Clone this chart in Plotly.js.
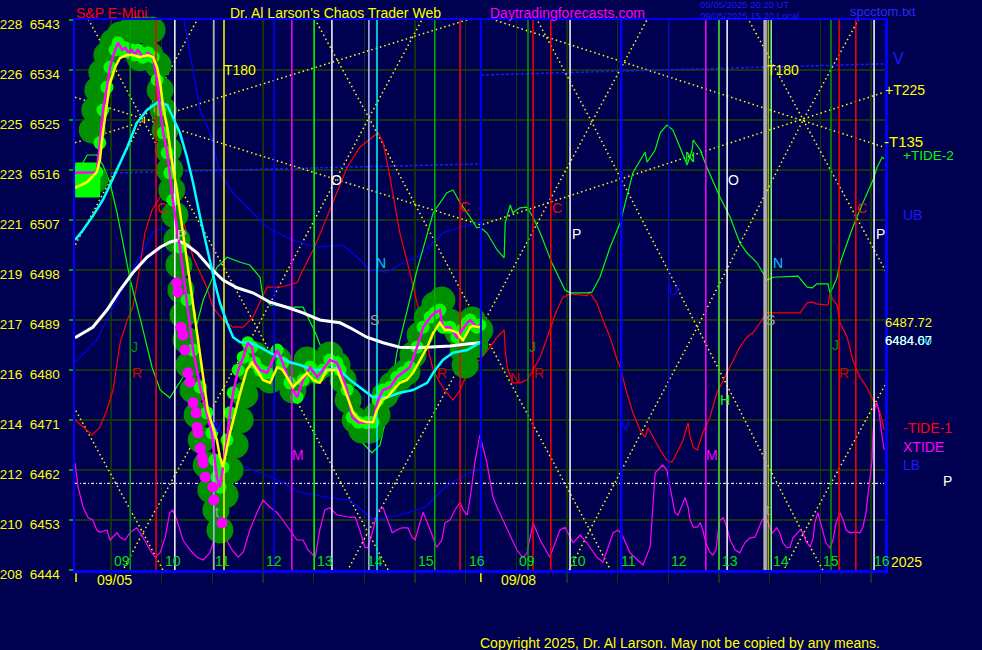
<!DOCTYPE html>
<html><head><meta charset="utf-8">
<script src="https://cdn.plot.ly/plotly-3.0.1.min.js"></script>
<style>html,body{margin:0;padding:0;background:#000050;}#chart{width:982px;height:650px;}</style>
</head><body><div id="chart"></div>
<script>
// ---------- DATA ----------
// x = session hour (09/05: 9..16, 09/08: 17..24 means 09:00..16:00), y = S&P E-mini price
const priceTicks = [6444,6453,6462,6471,6480,6489,6498,6507,6516,6525,6534,6543];
const etfTicks = [208,210,212,214,216,217,219,221,223,225,226,228];
const hourTicks = [9,10,11,12,13,14,15,16,17,18,19,20,21,22,23,24];
const hourLabels = ['09','10','11','12','13','14','15','16','09','10','11','12','13','14','15','16'];
const dateLabels = ['09/05','09/08'];
const dateTimes = [9.06,17.05];
const dateTickTimes = [8.31,16.30];

const pricePath = [[8.29,6515.5],[8.72,6515.6],[8.78,6520.9],[8.84,6526.8],[8.92,6530.9],[8.98,6534.5],[9.08,6537.6],[9.14,6538.9],[9.22,6537.6],[9.28,6538.0],[9.34,6537.2],[9.41,6537.6],[9.47,6536.7],[9.53,6537.6],[9.63,6536.3],[9.73,6537.1],[9.83,6536.3],[9.91,6532.2],[9.97,6526.8],[10.03,6522.7],[10.11,6519.1],[10.16,6515.5],[10.22,6510.6],[10.36,6502.1],[10.50,6492.6],[10.62,6483.6],[10.76,6476.9],[10.89,6472.3],[10.99,6468.7],[11.05,6463.8],[11.09,6460.7],[11.15,6458.9],[11.21,6462.5],[11.29,6467.4],[11.35,6472.3],[11.41,6475.9],[11.51,6480.0],[11.61,6482.3],[11.70,6484.9],[11.78,6484.1],[11.84,6481.3],[11.94,6480.0],[12.08,6479.5],[12.28,6483.6],[12.39,6481.3],[12.53,6477.7],[12.67,6475.1],[12.79,6478.2],[12.93,6480.5],[13.07,6478.7],[13.18,6480.0],[13.32,6481.8],[13.46,6481.3],[13.52,6480.0],[13.66,6476.4],[13.76,6471.5],[13.88,6470.6],[14.05,6470.5],[14.17,6470.6],[14.27,6474.6],[14.37,6476.4],[14.51,6476.9],[14.64,6478.7],[14.76,6479.5],[14.90,6480.5],[15.04,6484.1],[15.16,6487.7],[15.30,6489.5],[15.39,6490.3],[15.49,6490.8],[15.55,6487.7],[15.69,6487.7],[15.83,6485.9],[15.93,6487.2],[16.03,6488.5],[16.09,6489.0],[16.22,6487.7],[16.28,6488.1]];

const smoothPath = [[8.29,6512.8],[8.53,6513.8],[8.72,6515.6],[8.78,6517.8],[8.84,6522.7],[8.92,6528.1],[8.98,6531.7],[9.08,6534.5],[9.18,6536.2],[9.32,6536.7],[9.43,6536.7],[9.57,6536.3],[9.73,6536.7],[9.83,6536.3],[9.91,6534.5],[9.97,6531.7],[10.03,6527.3],[10.11,6523.7],[10.16,6520.1],[10.22,6516.5],[10.30,6512.4],[10.36,6508.3],[10.42,6504.7],[10.56,6495.7],[10.70,6486.7],[10.82,6478.2],[10.91,6472.8],[11.01,6469.7],[11.09,6467.4],[11.15,6464.3],[11.21,6462.5],[11.23,6463.3],[11.29,6466.1],[11.35,6468.7],[11.45,6472.3],[11.55,6475.9],[11.68,6480.0],[11.78,6481.3],[11.88,6480.0],[12.00,6478.2],[12.14,6477.7],[12.28,6480.5],[12.39,6480.0],[12.59,6476.9],[12.73,6478.2],[12.87,6479.5],[12.99,6478.2],[13.12,6477.7],[13.26,6480.0],[13.46,6480.0],[13.52,6478.7],[13.66,6475.1],[13.78,6472.3],[13.91,6471.0],[14.05,6470.6],[14.17,6470.6],[14.25,6472.8],[14.35,6474.6],[14.45,6475.1],[14.57,6476.4],[14.70,6477.7],[14.84,6478.2],[14.96,6479.5],[15.10,6481.8],[15.24,6484.1],[15.36,6486.7],[15.49,6488.5],[15.59,6487.2],[15.69,6487.2],[15.83,6486.8],[15.89,6485.9],[15.95,6485.4],[16.03,6486.7],[16.09,6487.7],[16.14,6487.9],[16.28,6487.7]];

const fastAvg = [[8.29,6503.4],[8.45,6505.2],[8.64,6507.7],[8.84,6510.6],[8.98,6513.3],[9.12,6516.0],[9.32,6520.1],[9.51,6524.5],[9.71,6526.8],[9.93,6528.2],[10.11,6527.7],[10.22,6525.5],[10.36,6522.7],[10.50,6518.3],[10.62,6513.7],[10.76,6507.5],[10.89,6502.1],[10.99,6498.5],[11.05,6495.7],[11.15,6492.1],[11.29,6488.5],[11.41,6485.9],[11.55,6485.0],[11.74,6484.9],[11.94,6484.1],[12.14,6483.1],[12.34,6482.2],[12.53,6481.4],[12.73,6480.9],[12.99,6480.0],[13.26,6480.0],[13.46,6480.4],[13.72,6478.2],[13.97,6476.4],[14.17,6475.1],[14.45,6475.1],[14.70,6475.9],[14.96,6476.4],[15.24,6477.7],[15.36,6479.5],[15.55,6481.8],[15.75,6483.1],[16.03,6483.6],[16.28,6484.9]];

const slowAvg = [[8.29,6485.8],[8.64,6487.7],[8.92,6490.8],[9.18,6494.4],[9.43,6497.5],[9.71,6500.3],[9.97,6502.1],[10.16,6503.0],[10.30,6503.4],[10.50,6502.5],[10.70,6501.1],[10.95,6498.5],[11.21,6496.2],[11.49,6494.8],[11.80,6493.9],[12.14,6492.2],[12.47,6491.3],[12.79,6490.3],[13.12,6489.0],[13.52,6488.5],[13.72,6487.6],[14.05,6485.9],[14.37,6484.9],[14.70,6484.1],[15.04,6484.0],[15.36,6484.1],[15.69,6484.3],[16.03,6484.7],[16.28,6484.9]];

const bigDots = [[10.30,6495.7],[10.32,6494.0],[10.38,6487.7],[10.42,6486.3],[10.46,6483.6],[10.52,6479.5],[10.56,6477.8],[10.62,6474.1],[10.68,6472.3],[10.70,6469.7],[10.72,6468.7],[10.76,6465.9],[10.80,6464.3],[10.82,6463.3],[10.86,6460.7],[11.01,6458.9],[11.03,6456.6],[11.19,6452.5]];

const bubbles = [[8.23,6513.7],[8.68,6514.2],[8.63,6523.2],[8.68,6526.8],[8.74,6530.4],[8.82,6533.6],[8.92,6536.7],[9.04,6539.0],[9.18,6540.3],[9.34,6540.8],[9.51,6541.2],[9.67,6541.2],[9.81,6541.2],[9.77,6536.7],[9.57,6536.2],[9.93,6534.9],[9.97,6530.4],[10.03,6526.8],[10.07,6523.2],[10.13,6519.6],[10.16,6516.0],[10.20,6512.4],[10.26,6507.9],[10.30,6503.4],[10.34,6498.9],[10.38,6494.4],[10.42,6489.9],[10.48,6485.4],[10.54,6480.9],[10.62,6476.4],[10.70,6471.9],[10.78,6467.4],[10.88,6462.9],[10.97,6458.4],[11.07,6454.8],[11.15,6451.2],[11.25,6457.5],[11.35,6462.0],[11.45,6466.5],[11.55,6471.0],[11.64,6475.5],[11.74,6480.0],[11.84,6482.7],[11.98,6479.1],[12.14,6478.2],[12.30,6481.8],[12.43,6479.1],[12.59,6476.4],[12.73,6479.1],[12.87,6481.8],[13.03,6480.0],[13.16,6480.9],[13.32,6482.7],[13.46,6480.9],[13.58,6478.2],[13.68,6474.6],[13.82,6471.0],[13.95,6469.2],[14.11,6469.2],[14.25,6471.9],[14.41,6475.5],[14.55,6477.3],[14.70,6478.6],[14.84,6479.7],[14.96,6482.7],[15.10,6486.3],[15.24,6489.4],[15.39,6491.7],[15.53,6492.6],[15.69,6488.6],[15.85,6486.8],[15.99,6488.1],[16.13,6489.0],[16.28,6487.2],[16.18,6484.5],[15.95,6483.6],[15.99,6480.9]];
const openBox = [[8.54,6515.1],[8.54,6513.3]];

const greenTide = [[8.29,6515.1],[8.39,6516.4],[8.53,6518.7],[8.72,6518.7],[8.84,6516.9],[8.98,6513.7],[9.12,6508.3],[9.24,6502.9],[9.38,6496.2],[9.57,6489.5],[9.81,6480.5],[9.97,6476.4],[10.16,6475.0],[10.42,6478.7],[10.62,6485.4],[10.82,6492.6],[11.09,6498.5],[11.29,6500.3],[11.55,6499.4],[11.74,6498.9],[11.94,6496.7],[12.00,6493.1],[12.14,6491.7],[12.59,6491.3],[12.79,6491.3],[13.03,6486.8],[13.32,6480.0],[13.62,6472.8],[13.91,6467.4],[14.15,6465.1],[14.31,6466.5],[14.51,6474.6],[14.64,6483.1],[15.04,6498.0],[15.36,6508.3],[15.63,6511.9],[15.75,6512.4],[15.89,6510.1],[16.09,6507.5],[16.22,6505.6],[16.28,6505.7],[16.42,6504.7],[16.62,6501.6],[16.76,6500.2],[16.78,6506.5],[16.88,6509.7],[16.93,6508.3],[17.07,6509.2],[17.21,6509.3],[17.33,6507.5],[17.47,6504.7],[17.70,6499.3],[17.96,6494.4],[18.06,6493.9],[18.39,6493.9],[18.49,6494.0],[18.65,6496.7],[18.85,6502.1],[19.05,6506.5],[19.30,6515.5],[19.54,6519.2],[19.58,6517.4],[19.74,6519.6],[19.84,6522.7],[19.97,6524.1],[20.09,6523.2],[20.23,6520.1],[20.37,6516.9],[20.47,6519.6],[20.49,6521.4],[20.63,6519.6],[20.76,6516.5],[21.02,6511.1],[21.22,6507.5],[21.41,6502.9],[21.55,6501.1],[21.75,6499.3],[21.87,6497.5],[21.95,6496.2],[22.07,6496.7],[22.56,6496.9],[22.74,6494.9],[22.84,6494.8],[22.93,6495.5],[23.15,6495.5],[23.19,6493.9],[23.25,6494.9],[23.33,6496.7],[23.39,6499.3],[23.53,6502.9],[23.64,6505.7],[23.84,6510.1],[24.04,6514.2],[24.12,6516.5],[24.22,6518.3],[24.26,6518.0]];

const redTide = [[8.29,6471.0],[8.45,6469.7],[8.63,6468.3],[8.78,6469.7],[8.92,6472.8],[9.04,6476.4],[9.18,6484.9],[9.32,6489.0],[9.43,6491.3],[9.57,6498.5],[9.67,6504.7],[9.81,6508.8],[9.97,6511.1],[10.11,6512.4],[10.22,6511.9],[10.36,6509.3],[10.50,6504.7],[10.62,6500.3],[10.76,6497.5],[10.89,6494.9],[11.01,6491.3],[11.21,6489.0],[11.41,6487.7],[11.61,6487.7],[11.80,6489.5],[11.94,6492.1],[12.08,6494.9],[12.34,6494.9],[12.67,6495.7],[12.79,6498.0],[12.99,6501.6],[13.18,6505.7],[13.46,6511.9],[13.66,6516.5],[13.91,6520.1],[14.27,6522.7],[14.37,6520.9],[14.47,6516.5],[14.61,6509.3],[14.70,6504.7],[14.90,6497.5],[15.10,6489.5],[15.26,6483.6],[15.36,6480.0],[15.49,6477.7],[15.63,6475.9],[15.75,6474.6],[15.89,6476.4],[16.03,6479.5],[16.14,6481.3],[16.28,6481.8],[16.48,6484.1],[16.62,6485.9],[16.76,6487.2],[16.78,6483.6],[16.82,6480.5],[16.93,6477.7],[17.07,6477.7],[17.21,6478.2],[17.33,6480.0],[17.47,6482.3],[17.66,6487.2],[17.80,6490.8],[17.92,6493.1],[18.06,6493.7],[18.39,6493.4],[18.45,6493.9],[18.59,6492.1],[18.71,6489.0],[18.85,6485.9],[18.99,6481.8],[19.05,6480.5],[19.18,6475.9],[19.30,6472.3],[19.44,6469.2],[19.54,6467.9],[19.60,6469.6],[19.70,6467.9],[19.84,6465.6],[19.97,6463.8],[20.07,6463.4],[20.17,6465.1],[20.29,6467.4],[20.39,6470.5],[20.43,6467.9],[20.49,6466.1],[20.57,6465.6],[20.68,6468.7],[20.82,6471.5],[20.96,6475.9],[21.16,6479.5],[21.28,6481.8],[21.41,6484.1],[21.55,6485.9],[21.67,6486.7],[21.81,6488.5],[21.95,6490.4],[22.01,6490.3],[22.60,6490.3],[22.74,6492.1],[22.84,6492.2],[22.93,6491.9],[23.15,6491.7],[23.19,6493.9],[23.25,6492.6],[23.33,6491.7],[23.39,6488.5],[23.53,6485.9],[23.64,6481.8],[23.78,6478.7],[23.92,6476.9],[24.04,6474.6],[24.18,6472.3],[24.26,6469.2]];

const xTide = [[8.29,6463.3],[8.35,6458.9],[8.45,6455.3],[8.55,6453.4],[8.64,6453.0],[8.72,6451.2],[8.78,6450.8],[8.92,6451.2],[8.98,6449.4],[9.12,6450.7],[9.18,6449.9],[9.28,6449.4],[9.38,6450.8],[9.51,6451.6],[9.63,6449.9],[9.77,6447.6],[9.87,6446.3],[9.97,6447.1],[10.07,6449.9],[10.16,6454.3],[10.22,6454.8],[10.30,6453.0],[10.42,6449.4],[10.56,6447.6],[10.70,6446.3],[10.82,6445.8],[10.95,6447.1],[11.05,6449.9],[11.15,6450.7],[11.25,6449.9],[11.39,6447.6],[11.51,6446.3],[11.61,6447.2],[11.74,6451.2],[11.88,6454.3],[12.00,6456.6],[12.14,6455.3],[12.28,6454.3],[12.39,6453.0],[12.53,6451.2],[12.67,6449.4],[12.79,6449.4],[12.89,6447.6],[13.03,6446.3],[13.12,6451.2],[13.22,6454.8],[13.32,6455.2],[13.46,6453.9],[13.72,6453.5],[13.82,6453.5],[13.91,6451.2],[14.01,6448.1],[14.07,6448.0],[14.17,6451.2],[14.27,6454.8],[14.37,6455.2],[14.47,6452.5],[14.55,6450.7],[14.64,6451.2],[14.74,6451.6],[14.86,6451.6],[14.94,6449.9],[15.00,6449.4],[15.10,6452.5],[15.16,6454.4],[15.30,6451.2],[15.43,6448.1],[15.53,6449.4],[15.59,6452.5],[15.69,6453.0],[15.79,6454.8],[15.89,6456.2],[15.95,6454.8],[16.03,6453.9],[16.09,6457.1],[16.18,6463.3],[16.28,6468.3],[16.42,6463.3],[16.54,6457.1],[16.62,6455.3],[16.82,6451.2],[17.01,6447.6],[17.13,6446.2],[17.21,6447.1],[17.33,6452.5],[17.47,6449.4],[17.66,6446.3],[17.86,6451.2],[17.96,6451.7],[18.12,6448.9],[18.26,6450.3],[18.39,6448.9],[18.59,6446.3],[18.71,6445.4],[18.91,6450.7],[19.01,6451.2],[19.11,6449.9],[19.24,6447.1],[19.50,6444.9],[19.64,6448.1],[19.74,6461.5],[19.84,6462.5],[19.89,6462.9],[19.97,6462.0],[20.03,6458.9],[20.09,6456.1],[20.13,6454.3],[20.19,6453.9],[20.25,6455.3],[20.33,6457.0],[20.39,6455.3],[20.43,6453.0],[20.49,6451.7],[20.57,6451.7],[20.63,6452.5],[20.68,6451.2],[20.74,6448.9],[20.82,6447.2],[20.88,6446.7],[20.94,6447.6],[20.98,6450.7],[21.02,6453.0],[21.08,6453.4],[21.14,6452.1],[21.22,6449.4],[21.32,6447.6],[21.41,6447.1],[21.51,6448.9],[21.61,6449.8],[21.71,6449.9],[21.77,6451.2],[21.85,6453.0],[21.91,6453.5],[21.97,6452.5],[22.05,6450.7],[22.14,6451.6],[22.20,6450.7],[22.26,6448.9],[22.34,6448.0],[22.40,6448.1],[22.46,6449.8],[22.54,6450.7],[22.60,6451.2],[22.66,6450.7],[22.72,6449.0],[22.80,6448.3],[22.86,6449.8],[22.89,6452.5],[22.95,6454.3],[22.99,6453.0],[23.05,6450.7],[23.11,6448.9],[23.19,6448.0],[23.25,6449.4],[23.31,6452.5],[23.39,6454.3],[23.45,6453.0],[23.51,6451.2],[23.59,6450.7],[23.70,6450.8],[23.78,6450.7],[23.84,6451.7],[23.90,6454.3],[23.96,6458.9],[24.02,6463.8],[24.04,6468.7],[24.08,6473.3],[24.12,6474.1],[24.16,6472.3],[24.20,6469.2],[24.26,6465.6]];

const upperBand = [[10.44,6543.0],[10.76,6526.8],[10.95,6522.7],[11.15,6515.5],[11.41,6511.9],[11.74,6508.8],[12.08,6505.7],[12.47,6503.9],[12.73,6502.9],[13.07,6502.1],[13.58,6502.5],[13.86,6500.3],[14.11,6498.0],[14.45,6497.6],[14.76,6499.3],[15.04,6500.3],[15.36,6502.9],[15.55,6504.7],[15.89,6505.7],[16.30,6506.6]];
const lowerBand = [[8.29,6481.4],[8.72,6485.4],[9.18,6493.9],[9.57,6500.3],[9.83,6504.8],[10.01,6505.6],[10.16,6504.3],[10.46,6492.6],[10.76,6478.2],[10.95,6472.8],[11.11,6469.6],[11.19,6468.8],[11.27,6466.5],[11.41,6463.3],[11.80,6462.0],[12.28,6460.2],[12.73,6458.0],[13.32,6457.0],[13.72,6456.6],[14.01,6454.3],[14.21,6453.0],[14.41,6453.4],[14.70,6453.9],[15.20,6455.3],[15.59,6458.9],[15.99,6461.1],[16.30,6462.2]];

const vLevel = [[[8.29,6515.3],[16.30,6517.1]],[[16.30,6533.1],[17.07,6533.3],[17.96,6533.6],[19.84,6534.0],[24.26,6535.1]]];
const pLevel = [[8.29,6459.6],[24.26,6459.6]];

const tLines = [[[8.29,6529.1],[16.30,6506.1],[24.26,6530.0]],[[8.29,6520.9],[16.30,6543.8],[24.26,6520.1]]];
const timeLattice = [
 [[7.41,6562.4],[9.63,6525.0],[11.88,6487.6],[14.07,6450.8],[16.30,6413.0]],
 [[11.87,6562.4],[14.09,6525.4],[16.30,6487.6],[18.45,6451.2],[20.62,6413.0]],
 [[16.30,6562.0],[18.49,6524.6],[20.57,6487.7],[22.66,6450.5],[24.90,6413.0]],
 [[20.45,6562.0],[22.66,6525.0],[24.90,6487.6]],
 [[7.41,6487.6],[9.63,6450.7],[11.85,6413.0]],
 [[7.41,6487.6],[9.63,6525.0],[11.85,6562.4]],
 [[7.41,6413.0],[9.63,6450.7],[11.88,6487.6],[14.09,6525.4],[16.30,6562.6]],
 [[11.87,6413.0],[14.07,6450.8],[16.30,6487.6],[18.49,6524.6],[20.70,6562.0]],
 [[16.30,6413.0],[18.45,6451.2],[20.57,6487.7],[22.66,6525.0],[24.90,6562.0]],
 [[20.45,6413.0],[22.66,6450.5],[24.90,6487.6]]
];

const timeLines = [9.38,9.89,10.26,11.03,11.23,12.22,12.57,13.01,13.36,14.09,14.25,15.39,15.89,16.30,17.23,17.33,17.68,18.06,19.07,20.01,20.74,21.00,21.16,21.91,21.97,22.03,23.21,23.37,23.70,24.06];

const letterText = ['T180','T180','O','O','P','P','P','C','C','C','C','N','N','N','S','S','J','J','J','R','R','R','N','R','H','M','M','t','t','U','V','V'];
const letterTime = [11.55,22.26,13.46,21.28,10.40,18.18,24.18,10.01,15.99,17.80,23.82,14.33,22.16,20.43,14.21,22.01,9.47,17.31,23.29,9.51,15.53,17.45,16.97,23.47,21.12,12.69,20.86,11.09,21.97,20.11,19.16,11.11];
const letterPrice = [6534.0,6534.0,6514.2,6514.2,6504.3,6504.5,6504.5,6509.2,6509.3,6509.2,6509.2,6499.3,6499.3,6518.3,6489.0,6489.0,6484.1,6484.1,6484.5,6479.5,6479.5,6479.5,6478.6,6479.5,6474.6,6464.7,6464.7,6454.4,6454.8,6494.4,6470.1,6469.7];

// ---------- STYLE ----------
const FONT = 'Liberation Sans, Arial, sans-serif';
const BG = '#000050', GRID = '#15330f';
const X0 = 8.2895, X1 = 24.276, Y0 = 6444, Y1 = 6543;
const M = {l:75, r:97, t:20, b:80};
const W = 982, H = 650, PW = W - M.l - M.r, PH = H - M.t - M.b;
const xp = px => (px - M.l) / PW;
const yp = py => (H - M.b - py) / PH;

const timeLineStyle = [
 ['#00a000',1.5],['#ff0000',1.5],['#ffffff',1.5],['#b8b8ff',1.5],['#ffff00',1.5],['#0000ff',1.5],['#ff00ff',1.5],['#00ff00',1.5],['#ffffff',1.5],['#b8b8ff',1.5],['#00ffff',1.5],['#00b000',1.5],['#ff0000',1.5],['#0000ff',2],['#00a000',1.5],['#ff0000',1.5],['#ff0000',1.5],['#ffffff',1.5],['#0000ff',2.5],['#0000ff',1],['#ff00ff',1.5],['#40e040',1.5],['#ffffff',1.5],['#b0b0b0',3.5],['#ffff00',1],['#80ff80',1.5],['#00a000',1.5],['#ff0000',1.5],['#ff0000',1.5],['#ffffff',1.5]
];
const letterColor = {'T180':'#ffff00','O':'#ffffff','P':'#ffffff','C':'#ff0000','S':'#a0a0a0','J':'#009000','R':'#d00000','H':'#00ff00','M':'#ff00ff','t':'#a0a0a0','U':'#0000ff','V':'#0000ff'};
const letterOverride = {4:'#c8c8c8',11:'#00c8ff',12:'#00c8ff',13:'#00ff00',22:'#d00000'};

const traces = [];
const X = pts => pts.map(p => p[0]);
const Yv = pts => pts.map(p => p[1]);
function line(pts, color, width, dash, extra){
  const t = {type:'scatter', mode:'lines', x:X(pts), y:Yv(pts), line:{color:color, width:width, dash:dash||'solid'}, hoverinfo:'skip', showlegend:false};
  Object.assign(t, extra||{});
  traces.push(t);
}

timeLattice.forEach(l => line(l, '#ffff00', 1.5, '1.5px,3px'));
tLines.forEach(l => line(l, '#ffff00', 1.5, '1.5px,3px'));
vLevel.forEach(l => line(l, '#1a1aff', 1.5, '3px,2px'));
line(pLevel, '#e0e0e0', 1.2, '3px,2px,1px,2px');
line(upperBand, '#0000ff', 1.2);
line(lowerBand, '#0000ff', 1.2);
line(redTide, '#ff0000', 1.2);
line(greenTide, '#00ff00', 1.2);
line(xTide, '#ff00ff', 1.2);

traces.push({type:'scatter', mode:'markers', x:X(bubbles), y:Yv(bubbles), marker:{size:27, color:'#009000', line:{width:0}}, cliponaxis:false, hoverinfo:'skip', showlegend:false});
traces.push({type:'scatter', mode:'markers', x:X(openBox), y:Yv(openBox), marker:{symbol:'square', size:25, color:'#00ff00', line:{width:0}}, cliponaxis:false, hoverinfo:'skip', showlegend:false});
traces.push({type:'scatter', mode:'markers', x:X(pricePath), y:Yv(pricePath), marker:{size:13, color:'#00ff00', line:{width:0}}, hoverinfo:'skip', showlegend:false});

timeLines.forEach((t, i) => line([[t, Y0], [t, Y1]], timeLineStyle[i][0], timeLineStyle[i][1]));

line(slowAvg, '#ffffff', 3);
line(fastAvg, '#00ffff', 2.5);
traces.push({type:'scatter', mode:'markers', x:X(bigDots), y:Yv(bigDots), marker:{size:11, color:'#ff00ff', line:{width:0}}, hoverinfo:'skip', showlegend:false});
line(pricePath, '#ff00ff', 2.5);
line(smoothPath, '#ffff00', 2.5);

// ---------- ANNOTATIONS ----------
const ann = [];
function txt(text, x, y, color, size, opts){
  ann.push(Object.assign({text:text, x:x, y:y, xref:'paper', yref:'paper', showarrow:false, xanchor:'left', yanchor:'middle', font:{family:FONT, size:size, color:color}, borderpad:0}, opts||{}));
}
hourTicks.forEach((h, i) => ann.push({text:hourLabels[i], x:h, y:0, xref:'x', yref:'paper', xanchor:'left', yanchor:'bottom', xshift:2, yshift:0, showarrow:false, borderpad:0, font:{family:FONT, size:14, color:'#00e000'}}));
dateLabels.forEach((d, i) => ann.push({text:d, x:dateTimes[i], y:0, xref:'x', yref:'paper', xanchor:'center', yanchor:'top', yshift:-1, showarrow:false, borderpad:0, font:{family:FONT, size:14, color:'#ffff00'}}));
letterText.forEach((s, i) => ann.push({text:s, x:letterTime[i], y:letterPrice[i], xref:'x', yref:'y', xanchor:'center', yanchor:'middle', showarrow:false, borderpad:0, font:{family:FONT, size:14, color:letterOverride[i] || letterColor[s]}}));

txt('S&amp;P E-Mini', xp(75), yp(13), '#ff0000', 14);
txt("Dr. Al Larson's Chaos Trader Web", xp(229), yp(13), '#ffff00', 14);
txt('Daytradingforecasts.com', xp(489), yp(13), '#ff00ff', 14);
txt('09/05/2025 20:20 UT', xp(699), yp(5), '#1a1aff', 9.5);
txt('09/05/2025 15:20 Local', xp(699), yp(15), '#1a1aff', 9.5);
txt('spcctom.txt', xp(849), yp(11), '#2a2aff', 13);
txt('V', xp(892), yp(58), '#1a1aff', 16);
txt('+T225', xp(884), yp(90), '#ffff00', 14);
txt('-T135', xp(883), yp(141), '#ffff00', 15);
txt('+TIDE-2', xp(902), yp(155), '#00ff00', 13.5);
txt('UB', xp(902), yp(215), '#1a1aff', 14);
txt('6487.72', xp(884), yp(322), '#ffff00', 13);
txt('6484.60', xp(884), yp(340), '#00ffff', 13);
txt('6484.07', xp(884), yp(340), '#ffffff', 13);
txt('-TIDE-1', xp(902), yp(428), '#ff0000', 14);
txt('XTIDE', xp(902), yp(447), '#ff00ff', 14);
txt('LB', xp(902), yp(465), '#1a1aff', 14);
txt('P', xp(942), yp(481), '#ffffff', 14);
txt('2025', xp(890), yp(562), '#ffff00', 14);
txt('Copyright 2025, Dr. Al Larson. May not be copied by any means.', xp(479), yp(643), '#ffff00', 14);

const shapes = dateTickTimes.map(t => ({type:'line', xref:'x', yref:'paper', x0:t, x1:t, y0:-0.006, y1:-0.022, line:{color:'#ffff00', width:1.5}}));

const layout = {
  width:W, height:H, margin:{l:M.l, r:M.r, t:M.t, b:M.b, pad:0},
  paper_bgcolor:BG, plot_bgcolor:BG, showlegend:false, hovermode:false,
  font:{family:FONT},
  xaxis:{range:[X0, X1], tickmode:'array', tickvals:hourTicks, showticklabels:false, ticks:'outside', ticklen:10, tickwidth:1.5, tickcolor:GRID,
         showgrid:true, gridcolor:GRID, gridwidth:1.5, zeroline:false, showline:true, linecolor:'#0000ff', linewidth:2.5, mirror:true, fixedrange:true},
  yaxis:{range:[Y0, Y1], tickmode:'array', tickvals:priceTicks, ticktext:priceTicks.map((p, i) => etfTicks[i] + '\u00a0\u00a0' + p),
         ticks:'outside', ticklen:4, tickwidth:1.5, tickcolor:'#00a000', tickfont:{family:FONT, size:13.5, color:'#ffff00'}, ticklabelshift:4, ticklabelstandoff:6,
         showgrid:true, gridcolor:GRID, gridwidth:1.5, zeroline:false, showline:true, linecolor:'#0000ff', linewidth:2.5, mirror:true, fixedrange:true},
  annotations:ann, shapes:shapes
};
Plotly.newPlot('chart', traces, layout, {staticPlot:true, displayModeBar:false});
</script>
</body></html>
